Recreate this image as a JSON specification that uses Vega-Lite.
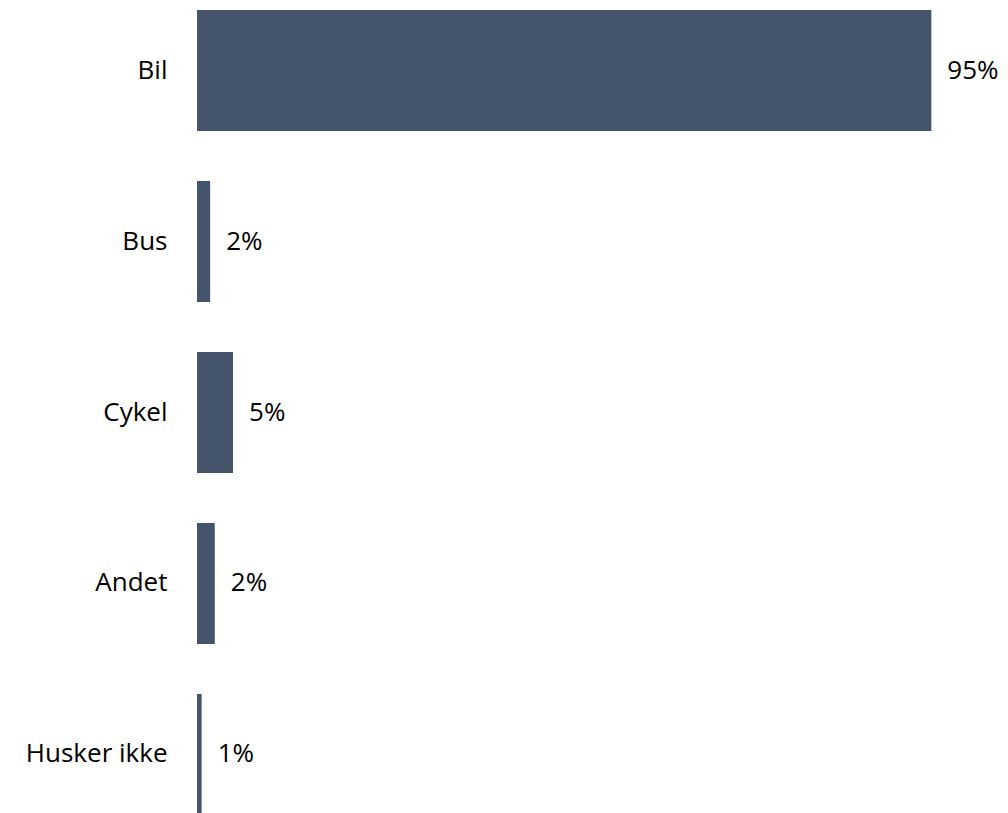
{
  "$schema": "https://vega.github.io/schema/vega-lite/v6.json",
  "width": 773,
  "height": 825,
  "autosize": "none",
  "padding": {"left": 197, "top": 0, "right": 38, "bottom": 0},
  "background": "white",
  "config": {"view": {"stroke": null}, "font": "Open Sans"},
  "data": {"values": [
    {"kategori": "Bil", "andel": 95, "label": "95%"},
    {"kategori": "Bus", "andel": 1.7, "label": "2%"},
    {"kategori": "Cykel", "andel": 4.66, "label": "5%"},
    {"kategori": "Andet", "andel": 2.3, "label": "2%"},
    {"kategori": "Husker ikke", "andel": 0.6, "label": "1%"}
  ]},
  "encoding": {
    "y": {"field": "kategori", "type": "nominal", "sort": null,
      "scale": {"paddingInner": 0.292, "paddingOuter": 0.0585},
      "axis": {"title": null, "domain": false, "ticks": false, "labelFontSize": 26, "labelColor": "#000000", "labelPadding": 30, "labelFont": "Open Sans"}},
    "x": {"field": "andel", "type": "quantitative", "scale": {"domain": [0, 100]}, "axis": null}
  },
  "layer": [
    {"mark": {"type": "bar", "color": "#44546A"}},
    {"mark": {"type": "text", "align": "left", "baseline": "middle", "dx": 16, "fontSize": 26, "color": "#000000", "font": "Open Sans"},
     "encoding": {"text": {"field": "label"}}}
  ]
}
